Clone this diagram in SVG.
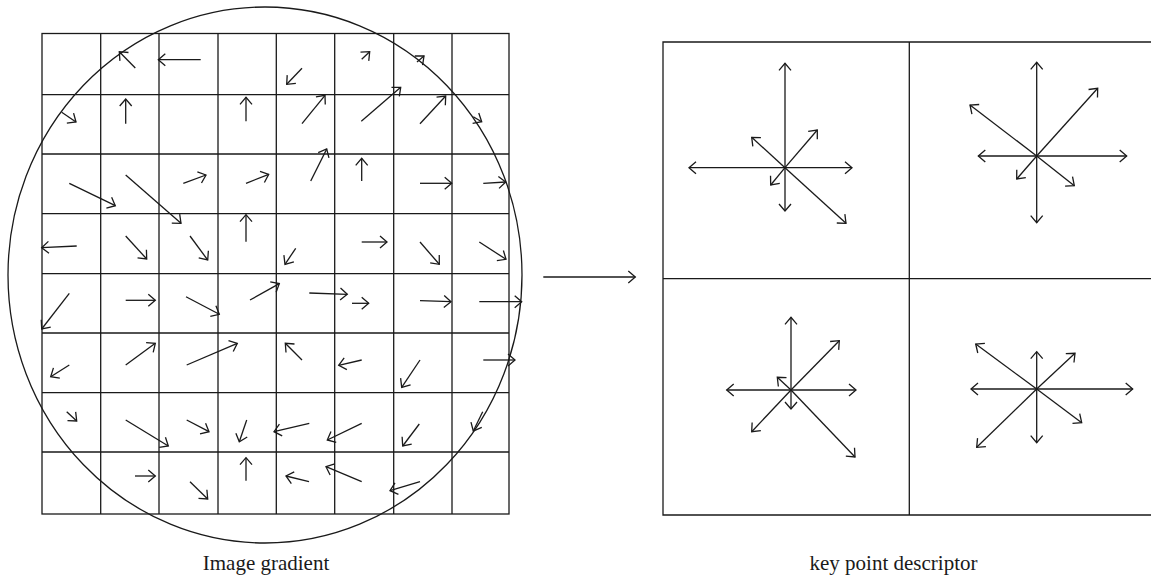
<svg xmlns="http://www.w3.org/2000/svg" width="1151" height="581" viewBox="0 0 1151 581">
<style>
.ln{stroke:#1a1a1a;stroke-width:1.3;fill:none}
.ar{stroke:#1a1a1a;stroke-width:1.3;fill:none;marker-end:url(#ah)}
.lbl{font-family:"Liberation Serif","Times New Roman",serif;font-size:21px;fill:#1a1a1a;text-anchor:middle}
</style>
<defs>
<marker id="ah" markerUnits="userSpaceOnUse" viewBox="-9 -8 11 16" refX="0" refY="0" markerWidth="11" markerHeight="16" orient="auto" overflow="visible">
<path d="M-7,-6 L0,0 L-7,6" fill="none" stroke="#1a1a1a" stroke-width="1.3"/>
</marker>
</defs>
<rect width="1151" height="581" fill="#fff"/>

<g id="image-gradient">
<g id="grid">
<rect class="ln" x="42" y="33.5" width="467" height="480.5"/>
<path class="ln" d="M100.7,33.5V514M159,33.5V514M218,33.5V514M276.3,33.5V514M334.7,33.5V514M393.7,33.5V514M452,33.5V514"/>
<path class="ln" d="M42,94.7H509M42,154H509M42,213.7H509M42,273.7H509M42,333H509M42,392.7H509M42,452H509"/>
</g>
<ellipse id="window" class="ln" cx="265" cy="275" rx="257" ry="268"/>
<g id="gradient-arrows">
<!-- row 0 -->
<line class="ar" x1="135.3" y1="68" x2="119.3" y2="51.7"/>
<line class="ar" x1="200.7" y1="59.7" x2="158.3" y2="59.7"/>
<line class="ar" x1="302" y1="68.3" x2="286.7" y2="84.3"/>
<line class="ar" x1="361.7" y1="59.3" x2="369.7" y2="51.7"/>
<line class="ar" x1="417" y1="62" x2="424" y2="56"/>
<!-- row 1 -->
<line class="ar" x1="61.7" y1="112.3" x2="76" y2="122"/>
<line class="ar" x1="125.7" y1="123.7" x2="125.7" y2="99"/>
<line class="ar" x1="246" y1="121.3" x2="246" y2="97.3"/>
<line class="ar" x1="302" y1="123.7" x2="325" y2="95.3"/>
<line class="ar" x1="361.3" y1="121.3" x2="400.7" y2="87.3"/>
<line class="ar" x1="420" y1="123.7" x2="445.7" y2="96"/>
<line class="ar" x1="473.3" y1="116.7" x2="481.7" y2="121.7"/>
<!-- row 2 -->
<line class="ar" x1="69.3" y1="183.3" x2="115.3" y2="205.7"/>
<line class="ar" x1="125.7" y1="175" x2="181" y2="223.3"/>
<line class="ar" x1="183.3" y1="183.3" x2="206" y2="175"/>
<line class="ar" x1="246" y1="183.3" x2="268.7" y2="174.3"/>
<line class="ar" x1="310.7" y1="181" x2="326.7" y2="149"/>
<line class="ar" x1="361.7" y1="181" x2="361.7" y2="158.3"/>
<line class="ar" x1="420" y1="183.3" x2="451.7" y2="183.3"/>
<line class="ar" x1="483.3" y1="183.3" x2="505.7" y2="182"/>
<!-- row 3 -->
<line class="ar" x1="76.7" y1="246" x2="41.7" y2="247.7"/>
<line class="ar" x1="125.7" y1="236" x2="146.7" y2="259"/>
<line class="ar" x1="190" y1="236" x2="207.7" y2="260"/>
<line class="ar" x1="246" y1="241.7" x2="246" y2="214.7"/>
<line class="ar" x1="295.7" y1="248.3" x2="285" y2="264.3"/>
<line class="ar" x1="361.7" y1="242" x2="387" y2="242"/>
<line class="ar" x1="420" y1="242" x2="439.3" y2="264.3"/>
<line class="ar" x1="479.3" y1="242" x2="506" y2="259.3"/>
<!-- row 4 -->
<line class="ar" x1="69.3" y1="293.3" x2="41.7" y2="329"/>
<line class="ar" x1="125.7" y1="300.3" x2="155.3" y2="300.3"/>
<line class="ar" x1="186" y1="296.7" x2="219.3" y2="314.3"/>
<line class="ar" x1="250" y1="300" x2="279.3" y2="283.6"/>
<line class="ar" x1="309.3" y1="293" x2="347.3" y2="294.3"/>
<line class="ar" x1="352" y1="303.3" x2="368.7" y2="303.3"/>
<line class="ar" x1="420" y1="300.7" x2="451" y2="301.7"/>
<line class="ar" x1="479.3" y1="301.7" x2="521.7" y2="301.7"/>
<!-- row 5 -->
<line class="ar" x1="69.3" y1="365" x2="50.7" y2="376.7"/>
<line class="ar" x1="125.7" y1="365" x2="155.3" y2="343.3"/>
<line class="ar" x1="186.7" y1="365" x2="237.3" y2="343.3"/>
<line class="ar" x1="302" y1="360" x2="285.3" y2="343.3"/>
<line class="ar" x1="361.7" y1="360" x2="338.7" y2="365.3"/>
<line class="ar" x1="420" y1="360" x2="401.7" y2="387.3"/>
<line class="ar" x1="483.3" y1="360" x2="515" y2="360"/>
<!-- row 6 -->
<line class="ar" x1="66.7" y1="411.7" x2="76.7" y2="421"/>
<line class="ar" x1="125.7" y1="420" x2="168.3" y2="446"/>
<line class="ar" x1="186.7" y1="420" x2="209" y2="431.7"/>
<line class="ar" x1="246.7" y1="420" x2="239.3" y2="441.7"/>
<line class="ar" x1="309.3" y1="423.3" x2="274" y2="431.7"/>
<line class="ar" x1="361.7" y1="423.3" x2="327.3" y2="440"/>
<line class="ar" x1="419.3" y1="424" x2="402.7" y2="446"/>
<line class="ar" x1="482.7" y1="411.7" x2="473.3" y2="431"/>
<!-- row 7 -->
<line class="ar" x1="135" y1="476" x2="155.3" y2="476"/>
<line class="ar" x1="190" y1="481.7" x2="207.7" y2="499"/>
<line class="ar" x1="246" y1="480.7" x2="246" y2="457.7"/>
<line class="ar" x1="309" y1="481.7" x2="286" y2="476"/>
<line class="ar" x1="361.7" y1="481.7" x2="326" y2="466.7"/>
<line class="ar" x1="420" y1="481.7" x2="390" y2="490.7"/>
</g>
</g>

<g id="keypoint-descriptor">
<g id="descriptor-frame">
<path class="ln" d="M1151,42H663V515H1151M663,278.7H1151M909.3,42V515"/>
</g>
<g id="cell-top-left">
<line class="ar" x1="785" y1="167.7" x2="785" y2="63.3"/>
<line class="ar" x1="785" y1="167.7" x2="785" y2="211"/>
<line class="ar" x1="785" y1="167.7" x2="689" y2="167.7"/>
<line class="ar" x1="785" y1="167.7" x2="852" y2="167.7"/>
<line class="ar" x1="785" y1="167.7" x2="817.3" y2="130"/>
<line class="ar" x1="785" y1="167.7" x2="751.7" y2="137.3"/>
<line class="ar" x1="785" y1="167.7" x2="770.7" y2="185"/>
<line class="ar" x1="785" y1="167.7" x2="846" y2="223.3"/>
</g>
<g id="cell-top-right">
<line class="ar" x1="1036.7" y1="156" x2="1036.7" y2="62.3"/>
<line class="ar" x1="1036.7" y1="156" x2="1036.7" y2="222.7"/>
<line class="ar" x1="1036.7" y1="156" x2="978.3" y2="156"/>
<line class="ar" x1="1036.7" y1="156" x2="1126.7" y2="156"/>
<line class="ar" x1="1036.7" y1="156" x2="1097.7" y2="88.3"/>
<line class="ar" x1="1036.7" y1="156" x2="970" y2="105"/>
<line class="ar" x1="1036.7" y1="156" x2="1016.7" y2="179"/>
<line class="ar" x1="1036.7" y1="156" x2="1074.3" y2="185.7"/>
</g>
<g id="cell-bottom-left">
<line class="ar" x1="791" y1="390" x2="791" y2="317.3"/>
<line class="ar" x1="791" y1="390" x2="791" y2="409"/>
<line class="ar" x1="791" y1="390" x2="726.7" y2="390"/>
<line class="ar" x1="791" y1="390" x2="856" y2="390"/>
<line class="ar" x1="791" y1="390" x2="839.3" y2="340.7"/>
<line class="ar" x1="791" y1="390" x2="777.3" y2="377.3"/>
<line class="ar" x1="791" y1="390" x2="751.7" y2="431.7"/>
<line class="ar" x1="791" y1="390" x2="855" y2="457"/>
</g>
<g id="cell-bottom-right">
<line class="ar" x1="1036.7" y1="389" x2="1036.7" y2="351.7"/>
<line class="ar" x1="1036.7" y1="389" x2="1036.7" y2="442.7"/>
<line class="ar" x1="1036.7" y1="389" x2="971" y2="389"/>
<line class="ar" x1="1036.7" y1="389" x2="1132.7" y2="389"/>
<line class="ar" x1="1036.7" y1="389" x2="1075" y2="353.3"/>
<line class="ar" x1="1036.7" y1="389" x2="975.7" y2="344"/>
<line class="ar" x1="1036.7" y1="389" x2="976.7" y2="447.3"/>
<line class="ar" x1="1036.7" y1="389" x2="1081.7" y2="422.7"/>
</g>
</g>

<g id="connectors">
<line class="ar" x1="543.3" y1="277" x2="635.3" y2="277"/>
</g>

<g id="labels">
<text class="lbl" x="266" y="570">Image gradient</text>
<text class="lbl" x="893.5" y="570">key point descriptor</text>
</g>
</svg>
